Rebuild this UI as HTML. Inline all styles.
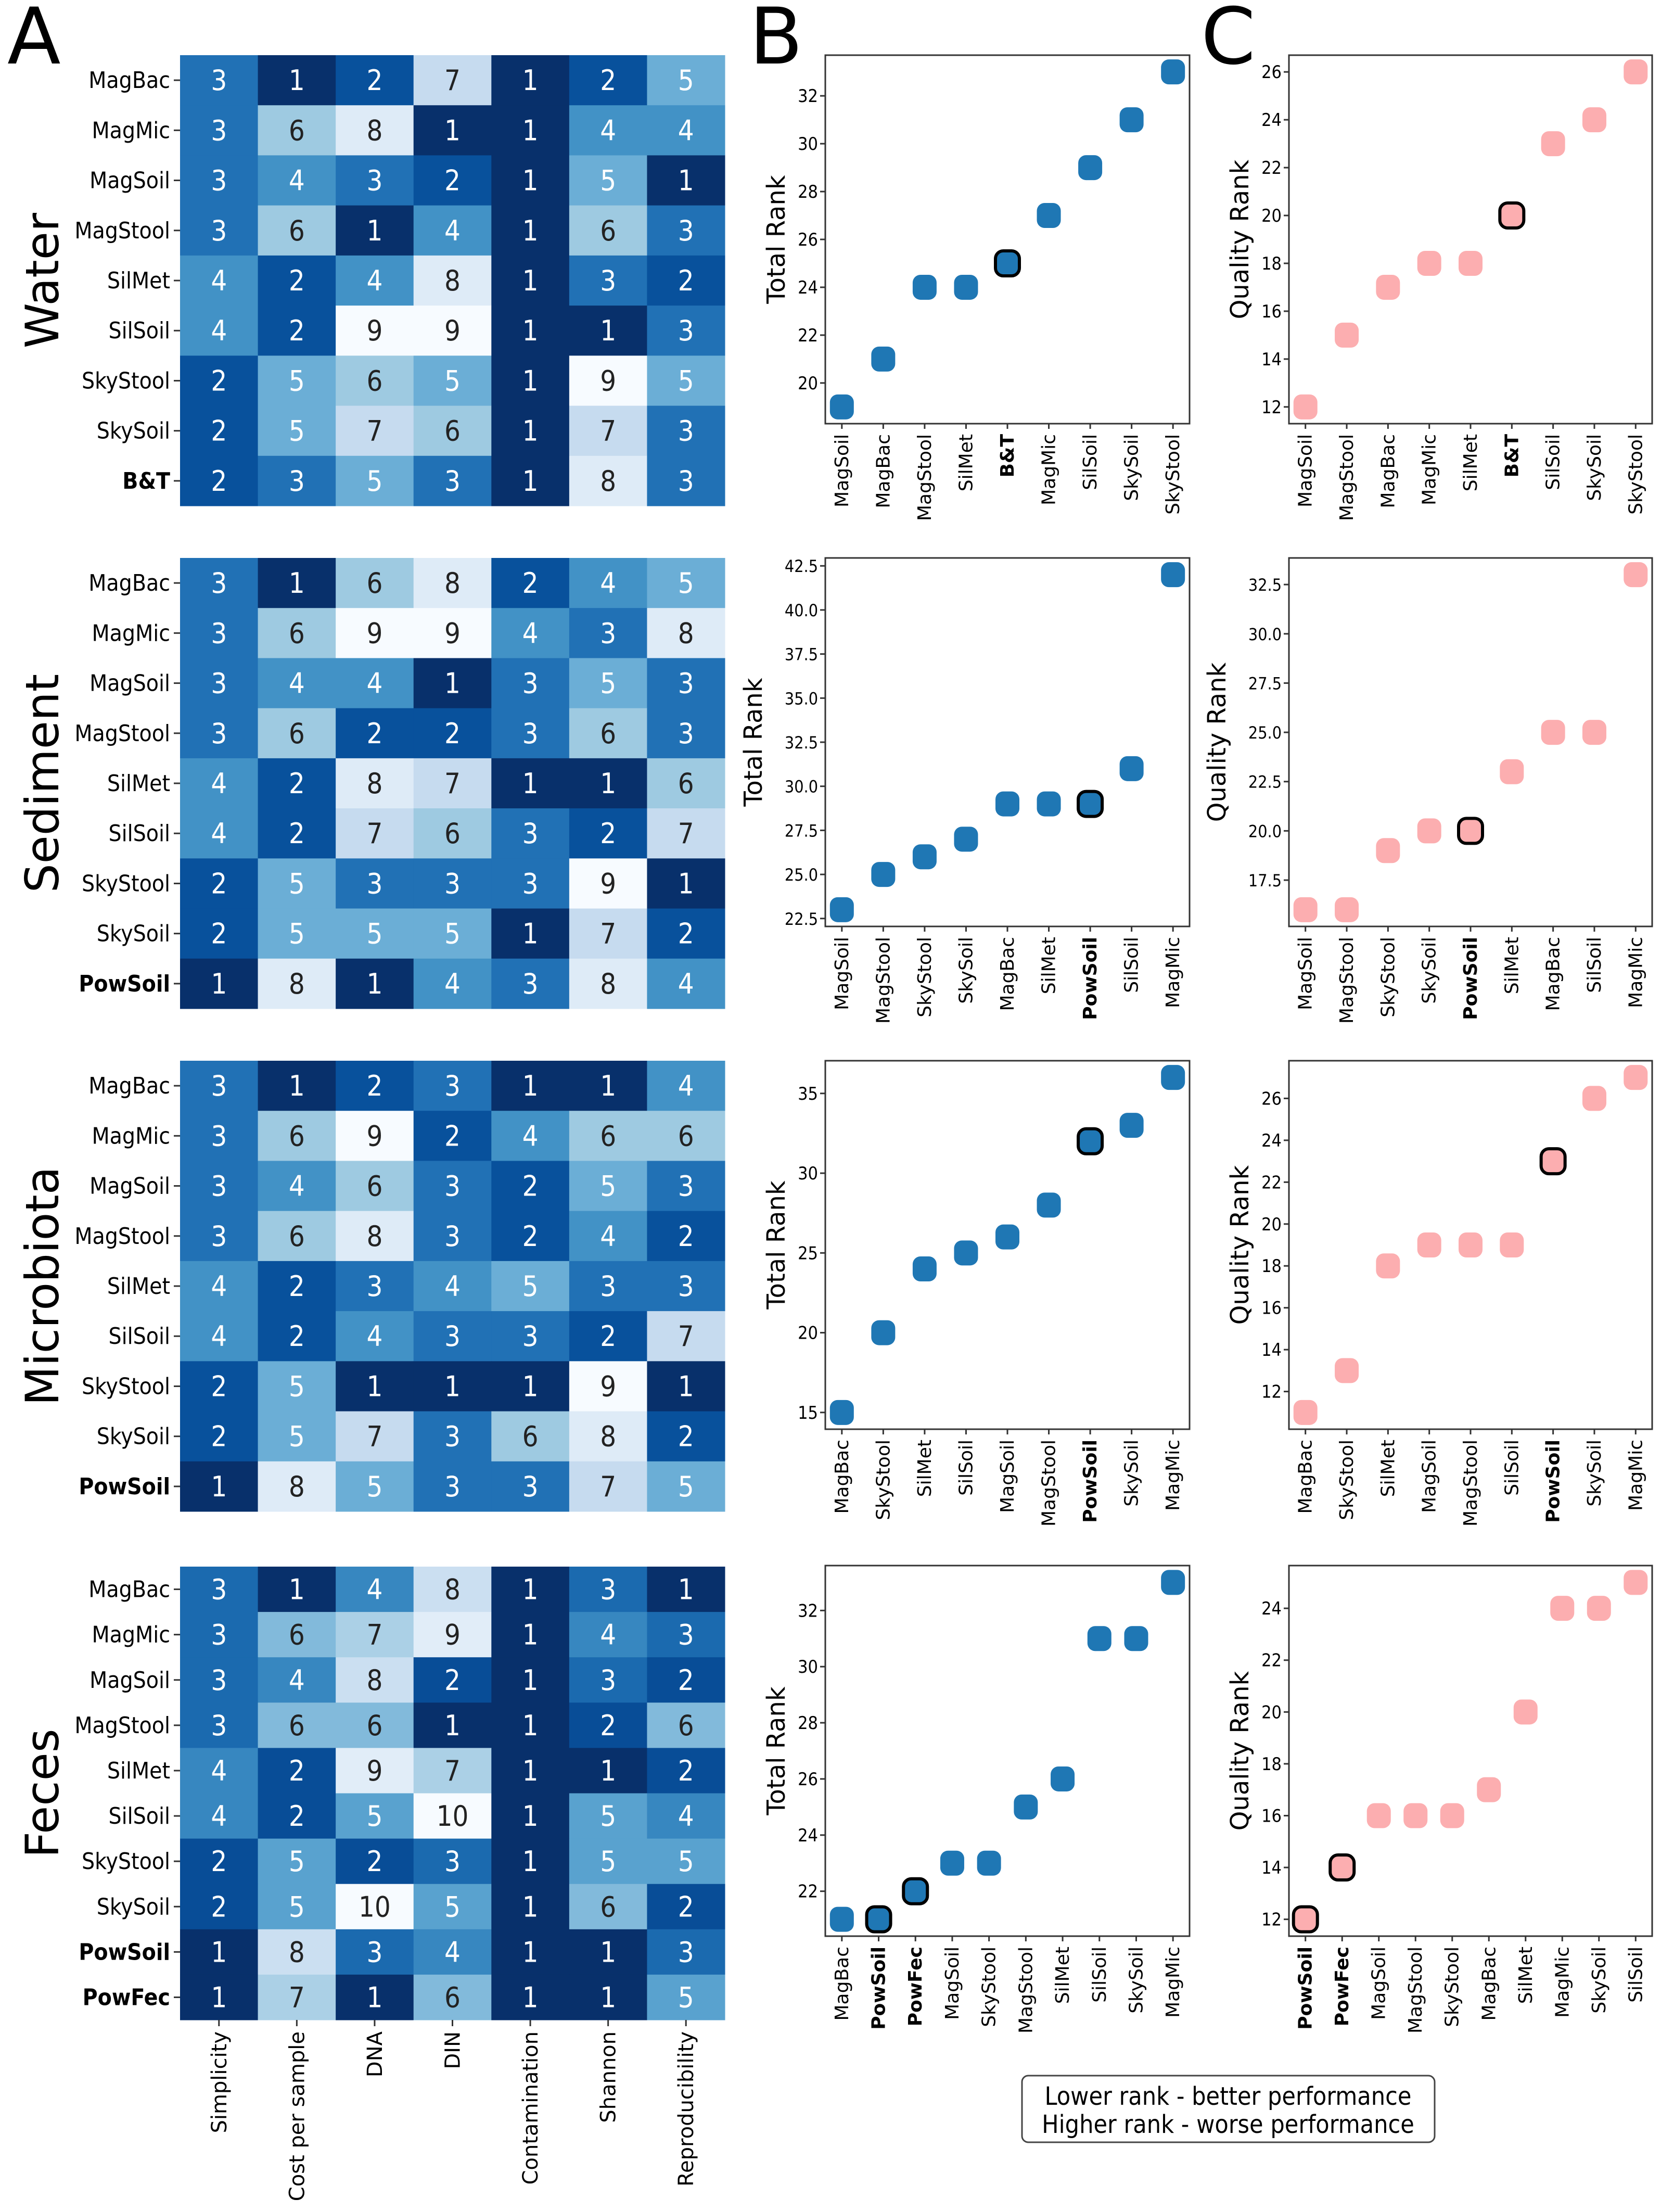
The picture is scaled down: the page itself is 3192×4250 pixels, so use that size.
<!DOCTYPE html>
<html><head><meta charset="utf-8">
<style>
html,body{margin:0;padding:0;background:#fff;}
svg{display:block;}
text{font-family:"DejaVu Sans","Liberation Sans",sans-serif;}
.cond{font-family:"DejaVu Sans Condensed","DejaVu Sans","Liberation Sans",sans-serif;}
</style></head>
<body>
<svg id="fig" width="3192" height="4250" viewBox="0 0 3192 4250" xmlns="http://www.w3.org/2000/svg">
<text x="14" y="122" font-family="Liberation Sans, sans-serif" font-size="150">A</text>
<text x="1440" y="122" font-family="Liberation Sans, sans-serif" font-size="150">B</text>
<text x="2308" y="122" font-family="Liberation Sans, sans-serif" font-size="150">C</text>
<g>
<rect x="1964" y="3988" width="793" height="128" rx="12" fill="#fff" stroke="#444" stroke-width="3"/>
<text x="2360" y="4044" text-anchor="middle" font-size="48" class="cond">Lower rank - better performance</text>
<text x="2360" y="4098" text-anchor="middle" font-size="48" class="cond">Higher rank - worse performance</text>
</g>
</svg>
<script>
const NS="http://www.w3.org/2000/svg";
const svg=document.getElementById('fig');
const criteria=["Simplicity","Cost per sample","DNA","DIN","Contamination","Shannon","Reproducibility"];
const groups=["Water","Sediment","Microbiota","Feces"];
const waterRows=["MagBac","MagMic","MagSoil","MagStool","SilMet","SilSoil","SkyStool","SkySoil","B&T"];
const waterVals=[[3,1,2,7,1,2,5],[3,6,8,1,1,4,4],[3,4,3,2,1,5,1],[3,6,1,4,1,6,3],[4,2,4,8,1,3,2],[4,2,9,9,1,1,3],[2,5,6,5,1,9,5],[2,5,7,6,1,7,3],[2,3,5,3,1,8,3]];
const sedRows=["MagBac","MagMic","MagSoil","MagStool","SilMet","SilSoil","SkyStool","SkySoil","PowSoil"];
const sedVals=[[3,1,6,8,2,4,5],[3,6,9,9,4,3,8],[3,4,4,1,3,5,3],[3,6,2,2,3,6,3],[4,2,8,7,1,1,6],[4,2,7,6,3,2,7],[2,5,3,3,3,9,1],[2,5,5,5,1,7,2],[1,8,1,4,3,8,4]];
const micRows=["MagBac","MagMic","MagSoil","MagStool","SilMet","SilSoil","SkyStool","SkySoil","PowSoil"];
const micVals=[[3,1,2,3,1,1,4],[3,6,9,2,4,6,6],[3,4,6,3,2,5,3],[3,6,8,3,2,4,2],[4,2,3,4,5,3,3],[4,2,4,3,3,2,7],[2,5,1,1,1,9,1],[2,5,7,3,6,8,2],[1,8,5,3,3,7,5]];
const fecRows=["MagBac","MagMic","MagSoil","MagStool","SilMet","SilSoil","SkyStool","SkySoil","PowSoil","PowFec"];
const fecVals=[[3,1,4,8,1,3,1],[3,6,7,9,1,4,3],[3,4,8,2,1,3,2],[3,6,6,1,1,2,6],[4,2,9,7,1,1,2],[4,2,5,10,1,5,4],[2,5,2,3,1,5,5],[2,5,10,5,1,6,2],[1,8,3,4,1,1,3],[1,7,1,6,1,1,5]];
const boldNames=["B&T","PowSoil","PowFec"];
const waterTotalCats=["MagSoil","MagBac","MagStool","SilMet","B&T","MagMic","SilSoil","SkySoil","SkyStool"];
const waterTotal=[19,21,24,24,25,27,29,31,33];
const waterTotalTicks=[20,22,24,26,28,30,32];
const waterQualCats=["MagSoil","MagStool","MagBac","MagMic","SilMet","B&T","SilSoil","SkySoil","SkyStool"];
const waterQual=[12,15,17,18,18,20,23,24,26];
const waterQualTicks=[12,14,16,18,20,22,24,26];
const sedTotalCats=["MagSoil","MagStool","SkyStool","SkySoil","MagBac","SilMet","PowSoil","SilSoil","MagMic"];
const sedTotal=[23,25,26,27,29,29,29,31,42];
const sedTotalTicks=[22.5,25.0,27.5,30.0,32.5,35.0,37.5,40.0,42.5];
const sedQualCats=["MagSoil","MagStool","SkyStool","SkySoil","PowSoil","SilMet","MagBac","SilSoil","MagMic"];
const sedQual=[16,16,19,20,20,23,25,25,33];
const sedQualTicks=[17.5,20.0,22.5,25.0,27.5,30.0,32.5];
const micTotalCats=["MagBac","SkyStool","SilMet","SilSoil","MagSoil","MagStool","PowSoil","SkySoil","MagMic"];
const micTotal=[15,20,24,25,26,28,32,33,36];
const micTotalTicks=[15,20,25,30,35];
const micQualCats=["MagBac","SkyStool","SilMet","MagSoil","MagStool","SilSoil","PowSoil","SkySoil","MagMic"];
const micQual=[11,13,18,19,19,19,23,26,27];
const micQualTicks=[12,14,16,18,20,22,24,26];
const fecTotalCats=["MagBac","PowSoil","PowFec","MagSoil","SkyStool","MagStool","SilMet","SilSoil","SkySoil","MagMic"];
const fecTotal=[21,21,22,23,23,25,26,31,31,33];
const fecTotalTicks=[22,24,26,28,30,32];
const fecQualCats=["PowSoil","PowFec","MagSoil","MagStool","SkyStool","MagBac","SilMet","MagMic","SkySoil","SilSoil"];
const fecQual=[12,14,16,16,16,17,20,24,24,25];
const fecQualTicks=[12,14,16,18,20,22,24];
const highlightNames=["B&T","PowSoil","PowFec"];

const heatData=[[waterRows,waterVals],[sedRows,sedVals],[micRows,micVals],[fecRows,fecVals]];
const totalData=[[waterTotalCats,waterTotal,waterTotalTicks],[sedTotalCats,sedTotal,sedTotalTicks],[micTotalCats,micTotal,micTotalTicks],[fecTotalCats,fecTotal,fecTotalTicks]];
const qualData=[[waterQualCats,waterQual,waterQualTicks],[sedQualCats,sedQual,sedQualTicks],[micQualCats,micQual,micQualTicks],[fecQualCats,fecQual,fecQualTicks]];

const tops=[106,1072,2038,3010];
const bottoms=[972,1938,2904,3881];
const hmX0=346, hmX1=1393;
const blues=[[247,251,255],[222,235,247],[198,219,239],[158,202,225],[107,174,214],[66,146,198],[33,113,181],[8,81,156],[8,48,107]];
function blueColor(t){
  const s=(1-t)*(blues.length-1); const i=Math.min(Math.floor(s),blues.length-2); const f=s-i;
  const c=blues[i].map((v,k)=>Math.round(v+(blues[i+1][k]-v)*f));
  return `rgb(${c[0]},${c[1]},${c[2]})`;
}
function mk(tag,attrs,parent){const e=document.createElementNS(NS,tag);for(const k in attrs)e.setAttribute(k,attrs[k]);(parent||svg).appendChild(e);return e;}

heatData.forEach(([rows,vals],g)=>{
  const gEl=mk('g',{});
  
  
  const all=vals.flat(); const mn=Math.min(...all), mx=Math.max(...all);
  const cw=(hmX1-hmX0)/criteria.length, ch=(bottoms[g]-tops[g])/rows.length;
  rows.forEach((r,i)=>{
    vals[i].forEach((v,j)=>{
      const t=(v-mn)/(mx-mn);
      const cell=mk('rect',{x:hmX0+j*cw,y:tops[g]+i*ch,width:cw+0.5,height:ch+0.5,fill:blueColor(t)},gEl);
      
      
      const tx=mk('text',{x:hmX0+(j+0.5)*cw,y:tops[g]+(i+0.5)*ch+19,'text-anchor':'middle','font-size':54,fill:t<=0.5?'#fff':'#222',class:'cond'},gEl);
      tx.textContent=v;
      
      
    });
    const yc=tops[g]+(i+0.5)*ch;
    mk('line',{x1:334,x2:346,y1:yc,y2:yc,stroke:'#333','stroke-width':3},gEl);
    const lb=mk('text',{x:327,y:yc+15,'text-anchor':'end','font-size':44,class:'cond','font-weight':boldNames.includes(r)?'bold':'normal'},gEl);
    lb.textContent=r;
    
    
  });
  const yc=(tops[g]+bottoms[g])/2;
  const gl=mk('text',{x:0,y:0,transform:`translate(112,${yc}) rotate(-90)`,'text-anchor':'middle','font-size':88},gEl);
  gl.textContent=groups[g];
  
  
});
criteria.forEach((c,j)=>{
  const cw=(hmX1-hmX0)/criteria.length; const x=hmX0+(j+0.5)*cw;
  mk('line',{x1:x,x2:x,y1:3881,y2:3893,stroke:'#333','stroke-width':3});
  const t=mk('text',{x:0,y:0,transform:`translate(${x+14},3903) rotate(-90)`,'text-anchor':'end','font-size':40});
  t.textContent=c;
  
  
});

function scatter(x0,x1,top,bot,cats,vals,ticks,color,title,name){
  const gEl=mk('g',{});
  
  
  const mn=Math.min(...vals), mx=Math.max(...vals), pad=(mx-mn)*0.05;
  const lo=mn-pad, hi=mx+pad;
  const yS=v=>bot-(v-lo)/(hi-lo)*(bot-top);
  const n=cats.length, xpad=(n-1)*0.05;
  const xS=i=>x0+(i+xpad)/((n-1)+2*xpad)*(x1-x0);
  const dec=ticks.some(q=>q%1!==0);
  mk('rect',{x:x0,y:top,width:x1-x0,height:bot-top,fill:'#fff',stroke:'#333','stroke-width':3},gEl);
  ticks.forEach(tv=>{
    if(tv<lo||tv>hi) return;
    const y=yS(tv);
    mk('line',{x1:x0-10,x2:x0,y1:y,y2:y,stroke:'#333','stroke-width':3},gEl);
    const t=mk('text',{x:x0-14,y:y+12,'text-anchor':'end','font-size':dec?32:34,class:'cond'},gEl);
    t.textContent=dec?tv.toFixed(1):tv;
    
    
  });
  cats.forEach((c,i)=>{
    const x=xS(i);
    mk('line',{x1:x,x2:x,y1:bot,y2:bot+10,stroke:'#333','stroke-width':3},gEl);
    const hl=highlightNames.includes(c);
    const t=mk('text',{x:0,y:0,transform:`translate(${x+12},${bot+20}) rotate(-90)`,'text-anchor':'end','font-size':36,'font-weight':hl?'bold':'normal'},gEl);
    t.textContent=c;
    
    
  });
  vals.forEach((v,i)=>{
    const hl=highlightNames.includes(cats[i]);
    const p=mk('rect',{x:xS(i)-23,y:yS(v)-24,width:46,height:48,rx:15,fill:color,stroke:hl?'#000':'none','stroke-width':hl?6:0},gEl);
    
    
  });
  const tx=dec?x0-122:x0-78;
  const tt=mk('text',{x:0,y:0,transform:`translate(${tx},${(top+bot)/2}) rotate(-90)`,'text-anchor':'middle','font-size':48},gEl);
  tt.textContent=title;
  
  
}
const sTops=[106,1072,2038,3008];
totalData.forEach(([c,v,t],g)=>scatter(1586,2286,sTops[g],sTops[g]+708+(g==3?4:0),c,v,t,'#1f77b4','Total Rank','total-rank-'+groups[g].toLowerCase()));
qualData.forEach(([c,v,t],g)=>scatter(2477,3175,sTops[g],sTops[g]+708+(g==3?4:0),c,v,t,'#fcaeb0','Quality Rank','quality-rank-'+groups[g].toLowerCase()));
</script>
</body></html>
